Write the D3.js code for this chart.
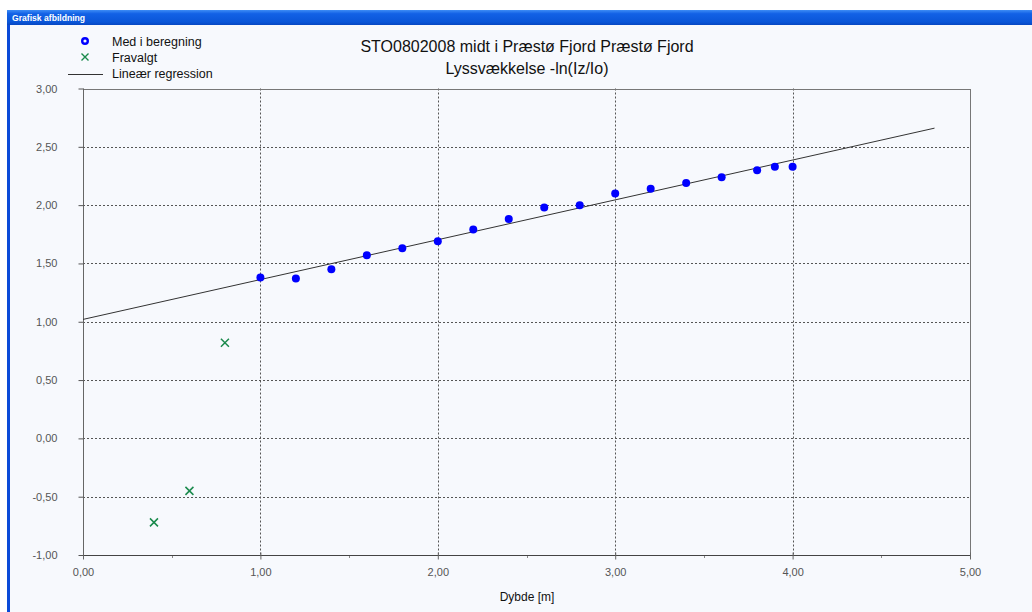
<!DOCTYPE html>
<html>
<head>
<meta charset="utf-8">
<script src="https://cdn.jsdelivr.net/npm/d3@7"></script>
<style>
  html, body { margin: 0; padding: 0; background: #ffffff; }
  svg { display: block; font-family: "Liberation Sans", Arial, sans-serif; }
</style>
</head>
<body>
<svg id="chart" width="1032" height="612"></svg>
<script>
// ---- data ----
const depth = [1.0, 1.2, 1.4, 1.6, 1.8, 2.0, 2.2, 2.4, 2.6, 2.8, 3.0, 3.2, 3.4, 3.6, 3.8, 3.9, 4.0];
const values = [1.38, 1.37, 1.45, 1.57, 1.63, 1.69, 1.79, 1.88, 1.98, 2.00, 2.10, 2.14, 2.19, 2.24, 2.30, 2.33, 2.33];
const rejectedDepth = [0.4, 0.6, 0.8];
const rejectedValues = [-0.72, -0.45, 0.82];
const regressionDepth = [0, 4.8];
const regressionValues = [1.02, 2.66];
const xTicks = [0, 1, 2, 3, 4, 5];
const xMinorTicks = [0.5, 1.5, 2.5, 3.5, 4.5];
const yTicks = [-1, -0.5, 0, 0.5, 1, 1.5, 2, 2.5, 3];
const titleLines = ["STO0802008 midt i Præstø Fjord Præstø Fjord", "Lyssvækkelse -ln(Iz/Io)"];
const legendLabels = ["Med i beregning", "Fravalgt", "Lineær regression"];
const windowTitle = "Grafisk afbildning";
const xLabel = "Dybde [m]";

// ---- layout ----
const W = 1032, H = 612;
const L = 83, R = 970, T = 88.5, B = 555;
const svg = d3.select("#chart");
const fmt = v => d3.format(".2f")(v).replace(".", ",").replace("−", "-");

// window frame
svg.append("rect").attr("x", 0).attr("y", 0).attr("width", W).attr("height", H).attr("fill", "#ffffff");
svg.append("rect").attr("x", 7).attr("y", 10).attr("width", W - 7).attr("height", H - 10).attr("fill", "#f7f9fd");
const defs = svg.append("defs");
const grad = defs.append("linearGradient").attr("id", "tb").attr("x1", 0).attr("y1", 0).attr("x2", 0).attr("y2", 1);
grad.append("stop").attr("offset", "0%").attr("stop-color", "#3d8cf5");
grad.append("stop").attr("offset", "25%").attr("stop-color", "#1261e6");
grad.append("stop").attr("offset", "80%").attr("stop-color", "#0a56d8");
grad.append("stop").attr("offset", "100%").attr("stop-color", "#0747c2");
svg.append("rect").attr("x", 7).attr("y", 10).attr("width", W - 7).attr("height", 15).attr("fill", "url(#tb)");
svg.append("rect").attr("x", 7).attr("y", 25).attr("width", 3).attr("height", H - 25).attr("fill", "#0a4ad8");
svg.append("text").attr("x", 12).attr("y", 21).attr("fill", "#ffffff")
  .attr("font-size", 8.6).attr("font-weight", "bold").attr("font-family", "'Liberation Sans', Arial, sans-serif")
  .text(windowTitle);

const x = d3.scaleLinear().domain([0, 5]).range([L, R]);
const y = d3.scaleLinear().domain([-1, 3]).range([B, T]);

// grid
const grid = svg.append("g");
grid.selectAll("line.gx").data(xTicks.filter(d => d > 0 && d < 5)).join("line")
  .attr("x1", d => Math.round(x(d)) + 0.5).attr("x2", d => Math.round(x(d)) + 0.5)
  .attr("y1", T).attr("y2", B)
  .attr("stroke", "#555").attr("stroke-width", 1).attr("stroke-dasharray", "2,2");
grid.selectAll("line.gy").data(yTicks.filter(d => d > -1 && d < 3)).join("line")
  .attr("y1", d => Math.round(y(d)) + 0.5).attr("y2", d => Math.round(y(d)) + 0.5)
  .attr("x1", L).attr("x2", R)
  .attr("stroke", "#555").attr("stroke-width", 1).attr("stroke-dasharray", "2,2");

// plot border
svg.append("rect").attr("x", L + 0.5).attr("y", Math.round(T) + 0.5)
  .attr("width", Math.round(R) - L).attr("height", Math.round(B) - Math.round(T))
  .attr("fill", "none").attr("stroke", "#777").attr("stroke-width", 1);
svg.append("line").attr("x1", L).attr("x2", R).attr("y1", Math.round(B) + 0.5).attr("y2", Math.round(B) + 0.5)
  .attr("stroke", "#444");
svg.append("line").attr("x1", L + 0.5).attr("x2", L + 0.5).attr("y1", T).attr("y2", B)
  .attr("stroke", "#666");

// axes
const xAxis = d3.axisBottom(x).tickValues(xTicks).tickFormat(fmt).tickSize(4).tickPadding(9);
const gx = svg.append("g").attr("transform", `translate(0,${Math.round(B) + 0.5})`).call(xAxis);
gx.select(".domain").remove();
gx.selectAll(".tick line").attr("stroke", "#666").attr("y1", -3);
gx.selectAll(".tick text").attr("fill", "#555").attr("font-size", 11).attr("font-family", "'Liberation Sans', Arial, sans-serif");
const gxm = svg.append("g");
gxm.selectAll("line").data(xMinorTicks).join("line")
  .attr("x1", d => Math.round(x(d)) + 0.5).attr("x2", d => Math.round(x(d)) + 0.5)
  .attr("y1", Math.round(B) + 1).attr("y2", Math.round(B) + 3).attr("stroke", "#888");

const yAxis = d3.axisLeft(y).tickValues(yTicks).tickFormat(fmt).tickSize(5).tickPadding(21);
const gy = svg.append("g").attr("transform", `translate(${L + 0.5},0)`).call(yAxis);
gy.select(".domain").remove();
gy.selectAll(".tick line").attr("stroke", "#555");
gy.selectAll(".tick text").attr("fill", "#555").attr("font-size", 11).attr("font-family", "'Liberation Sans', Arial, sans-serif");

// regression line
svg.append("path")
  .datum(regressionDepth.map((d, i) => [d, regressionValues[i]]))
  .attr("d", d3.line().x(d => x(d[0])).y(d => y(d[1])))
  .attr("fill", "none").attr("stroke", "#333").attr("stroke-width", 1);

// included points
svg.append("g").selectAll("circle").data(depth.map((d, i) => [d, values[i]])).join("circle")
  .attr("cx", d => x(d[0])).attr("cy", d => y(d[1])).attr("r", 4).attr("fill", "#0000ff");

// rejected points
const cs = 4;
svg.append("g").selectAll("path").data(rejectedDepth.map((d, i) => [d, rejectedValues[i]])).join("path")
  .attr("d", d => {
    const cx = x(d[0]), cy = y(d[1]);
    return `M${cx - cs},${cy - cs}L${cx + cs},${cy + cs}M${cx - cs},${cy + cs}L${cx + cs},${cy - cs}`;
  })
  .attr("stroke", "#1a8a4c").attr("stroke-width", 1.5).attr("fill", "none");

// title
const tg = svg.append("text").attr("text-anchor", "middle").attr("fill", "#111")
  .attr("font-size", 16).attr("font-family", "'Liberation Sans', Arial, sans-serif");
titleLines.forEach((t, i) => {
  tg.append("tspan").attr("x", 527).attr("y", 51.5 + i * 22.5).text(t);
});

// legend
const lg = svg.append("g").attr("font-family", "'Liberation Sans', Arial, sans-serif").attr("font-size", 12.5).attr("fill", "#111");
lg.append("circle").attr("cx", 85).attr("cy", 41).attr("r", 2.8).attr("fill", "none").attr("stroke", "#0000ff").attr("stroke-width", 2.4);
lg.append("path").attr("d", "M81.5,53.5L88.5,60.5M81.5,60.5L88.5,53.5").attr("stroke", "#1a8a4c").attr("stroke-width", 1.4);
lg.append("line").attr("x1", 68).attr("x2", 103).attr("y1", 74.5).attr("y2", 74.5).attr("stroke", "#333");
legendLabels.forEach((t, i) => {
  lg.append("text").attr("x", 112).attr("y", 45.5 + i * 16.3).text(t);
});

// x label
svg.append("text").attr("x", 527).attr("y", 601).attr("text-anchor", "middle")
  .attr("font-size", 12).attr("fill", "#111").attr("font-family", "'Liberation Sans', Arial, sans-serif")
  .text(xLabel);
</script>
</body>
</html>
